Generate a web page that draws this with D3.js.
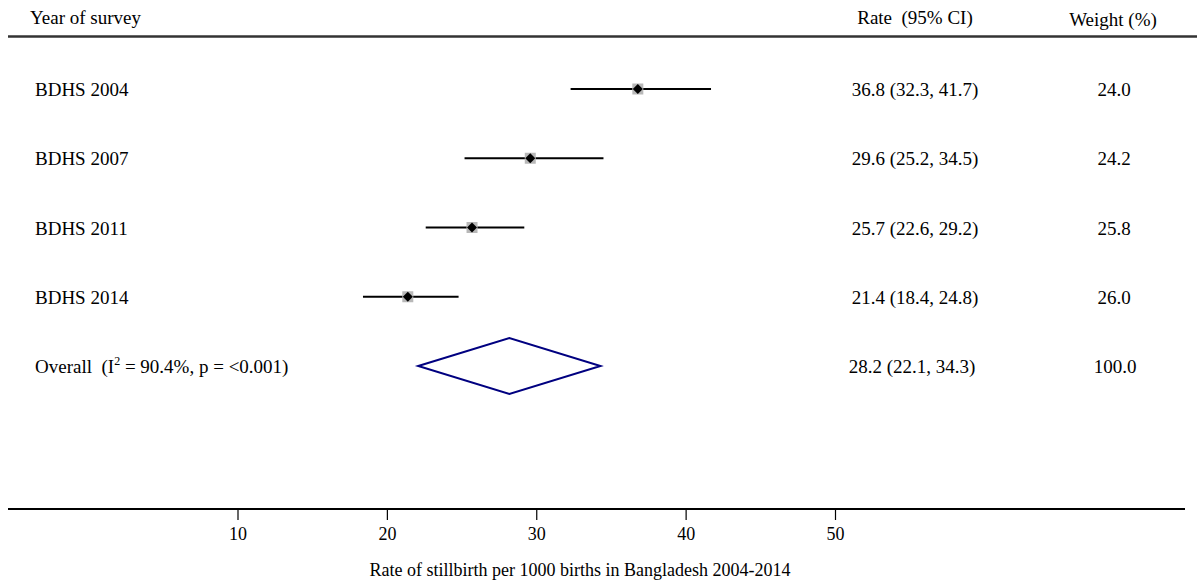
<!DOCTYPE html>
<html><head><meta charset="utf-8">
<script src="https://cdn.jsdelivr.net/npm/d3@7"></script>
<style>body{margin:0;background:#fff}svg{display:block}text{font-family:"Liberation Serif","Times New Roman",serif;fill:#000}</style>
</head><body><svg id="c" width="1197" height="581"></svg>
<script>
const studies = ["BDHS 2004","BDHS 2007","BDHS 2011","BDHS 2014"];
const rates = [36.8, 29.6, 25.7, 21.4];
const lower = [32.3, 25.2, 22.6, 18.4];
const upper = [41.7, 34.5, 29.2, 24.8];
const weights = [24.0, 24.2, 25.8, 26.0];
const overall = {rate: 28.2, lower: 22.1, upper: 34.3, weight: 100.0, i2: "90.4%", p: "<0.001"};
const tickValues = [10, 20, 30, 40, 50];
const headers = ["Year of survey", "Rate\u00a0\u00a0(95% CI)", "Weight (%)"];
const xTitle = "Rate of stillbirth per 1000 births in Bangladesh 2004-2014";

const svg = d3.select("#c");
const fs = 19;
const x = d3.scaleLinear().domain([10, 50]).range([237.5, 835]);
const rows = studies.concat(["Overall"]);
const y = d3.scalePoint().domain(rows).range([89, 366]);
const fmt = d3.format(".1f");

// header
svg.append("text").attr("x", 30).attr("y", 24).attr("font-size", fs).text(headers[0]);
svg.append("text").attr("x", 915).attr("y", 24).attr("text-anchor", "middle").attr("font-size", fs).text(headers[1]);
svg.append("text").attr("x", 1113).attr("y", 26).attr("text-anchor", "middle").attr("font-size", fs).text(headers[2]);
svg.append("line").attr("x1", 8).attr("x2", 1197).attr("y1", 36.5).attr("y2", 36.5).attr("stroke", "#333").attr("stroke-width", 2.5);

// study rows
const g = svg.append("g");
studies.forEach((s, i) => {
  const yy = y(s);
  g.append("text").attr("x", 35).attr("y", yy + 7).attr("font-size", fs).text(s);
  g.append("line").attr("x1", x(lower[i])).attr("x2", x(upper[i])).attr("y1", yy).attr("y2", yy).attr("stroke", "#000").attr("stroke-width", 2);
  const sq = 11;
  g.append("rect").attr("x", x(rates[i]) - sq / 2).attr("y", yy - sq / 2).attr("width", sq).attr("height", sq).attr("fill", "#b8b8b8");
  const d = 5;
  g.append("path").attr("d", `M${x(rates[i]) - d},${yy}L${x(rates[i])},${yy - d}L${x(rates[i]) + d},${yy}L${x(rates[i])},${yy + d}Z`).attr("fill", "#000");
  g.append("text").attr("x", 915).attr("y", yy + 7).attr("text-anchor", "middle").attr("font-size", fs)
    .text(`${fmt(rates[i])} (${fmt(lower[i])}, ${fmt(upper[i])})`);
  g.append("text").attr("x", 1114).attr("y", yy + 7).attr("text-anchor", "middle").attr("font-size", fs).text(fmt(weights[i]));
});

// overall
const yo = y("Overall");
const ol = svg.append("text").attr("x", 35).attr("y", yo + 7).attr("font-size", fs);
ol.append("tspan").text("Overall\u00a0\u00a0(I");
ol.append("tspan").attr("dy", -8).attr("font-size", 12).text("2");
ol.append("tspan").attr("dy", 8).text(` = ${overall.i2}, p = ${overall.p})`);
svg.append("path")
  .attr("d", `M${x(overall.lower)},${yo}L${x(overall.rate)},${yo - 28}L${x(overall.upper)},${yo}L${x(overall.rate)},${yo + 28}Z`)
  .attr("fill", "none").attr("stroke", "#000080").attr("stroke-width", 2);
svg.append("text").attr("x", 912).attr("y", yo + 7).attr("text-anchor", "middle").attr("font-size", fs)
  .text(`${fmt(overall.rate)} (${fmt(overall.lower)}, ${fmt(overall.upper)})`);
svg.append("text").attr("x", 1115).attr("y", yo + 7).attr("text-anchor", "middle").attr("font-size", fs).text(fmt(overall.weight));

// axis
const axisY = 509;
svg.append("line").attr("x1", 8).attr("x2", 1185).attr("y1", axisY).attr("y2", axisY).attr("stroke", "#000").attr("stroke-width", 2);
const ax = svg.append("g").attr("transform", `translate(0,${axisY})`)
  .call(d3.axisBottom(x).tickValues(tickValues).tickSize(11).tickPadding(7).tickFormat(d3.format("d")));
ax.select(".domain").remove();
ax.selectAll(".tick line").attr("stroke", "#000").attr("stroke-width", 1.2);
ax.selectAll(".tick text").attr("font-size", 18).attr("font-family", "Liberation Serif").attr("fill", "#000");
svg.append("text").attr("x", 580).attr("y", 576).attr("text-anchor", "middle").attr("font-size", 18).text(xTitle);
</script></body></html>
